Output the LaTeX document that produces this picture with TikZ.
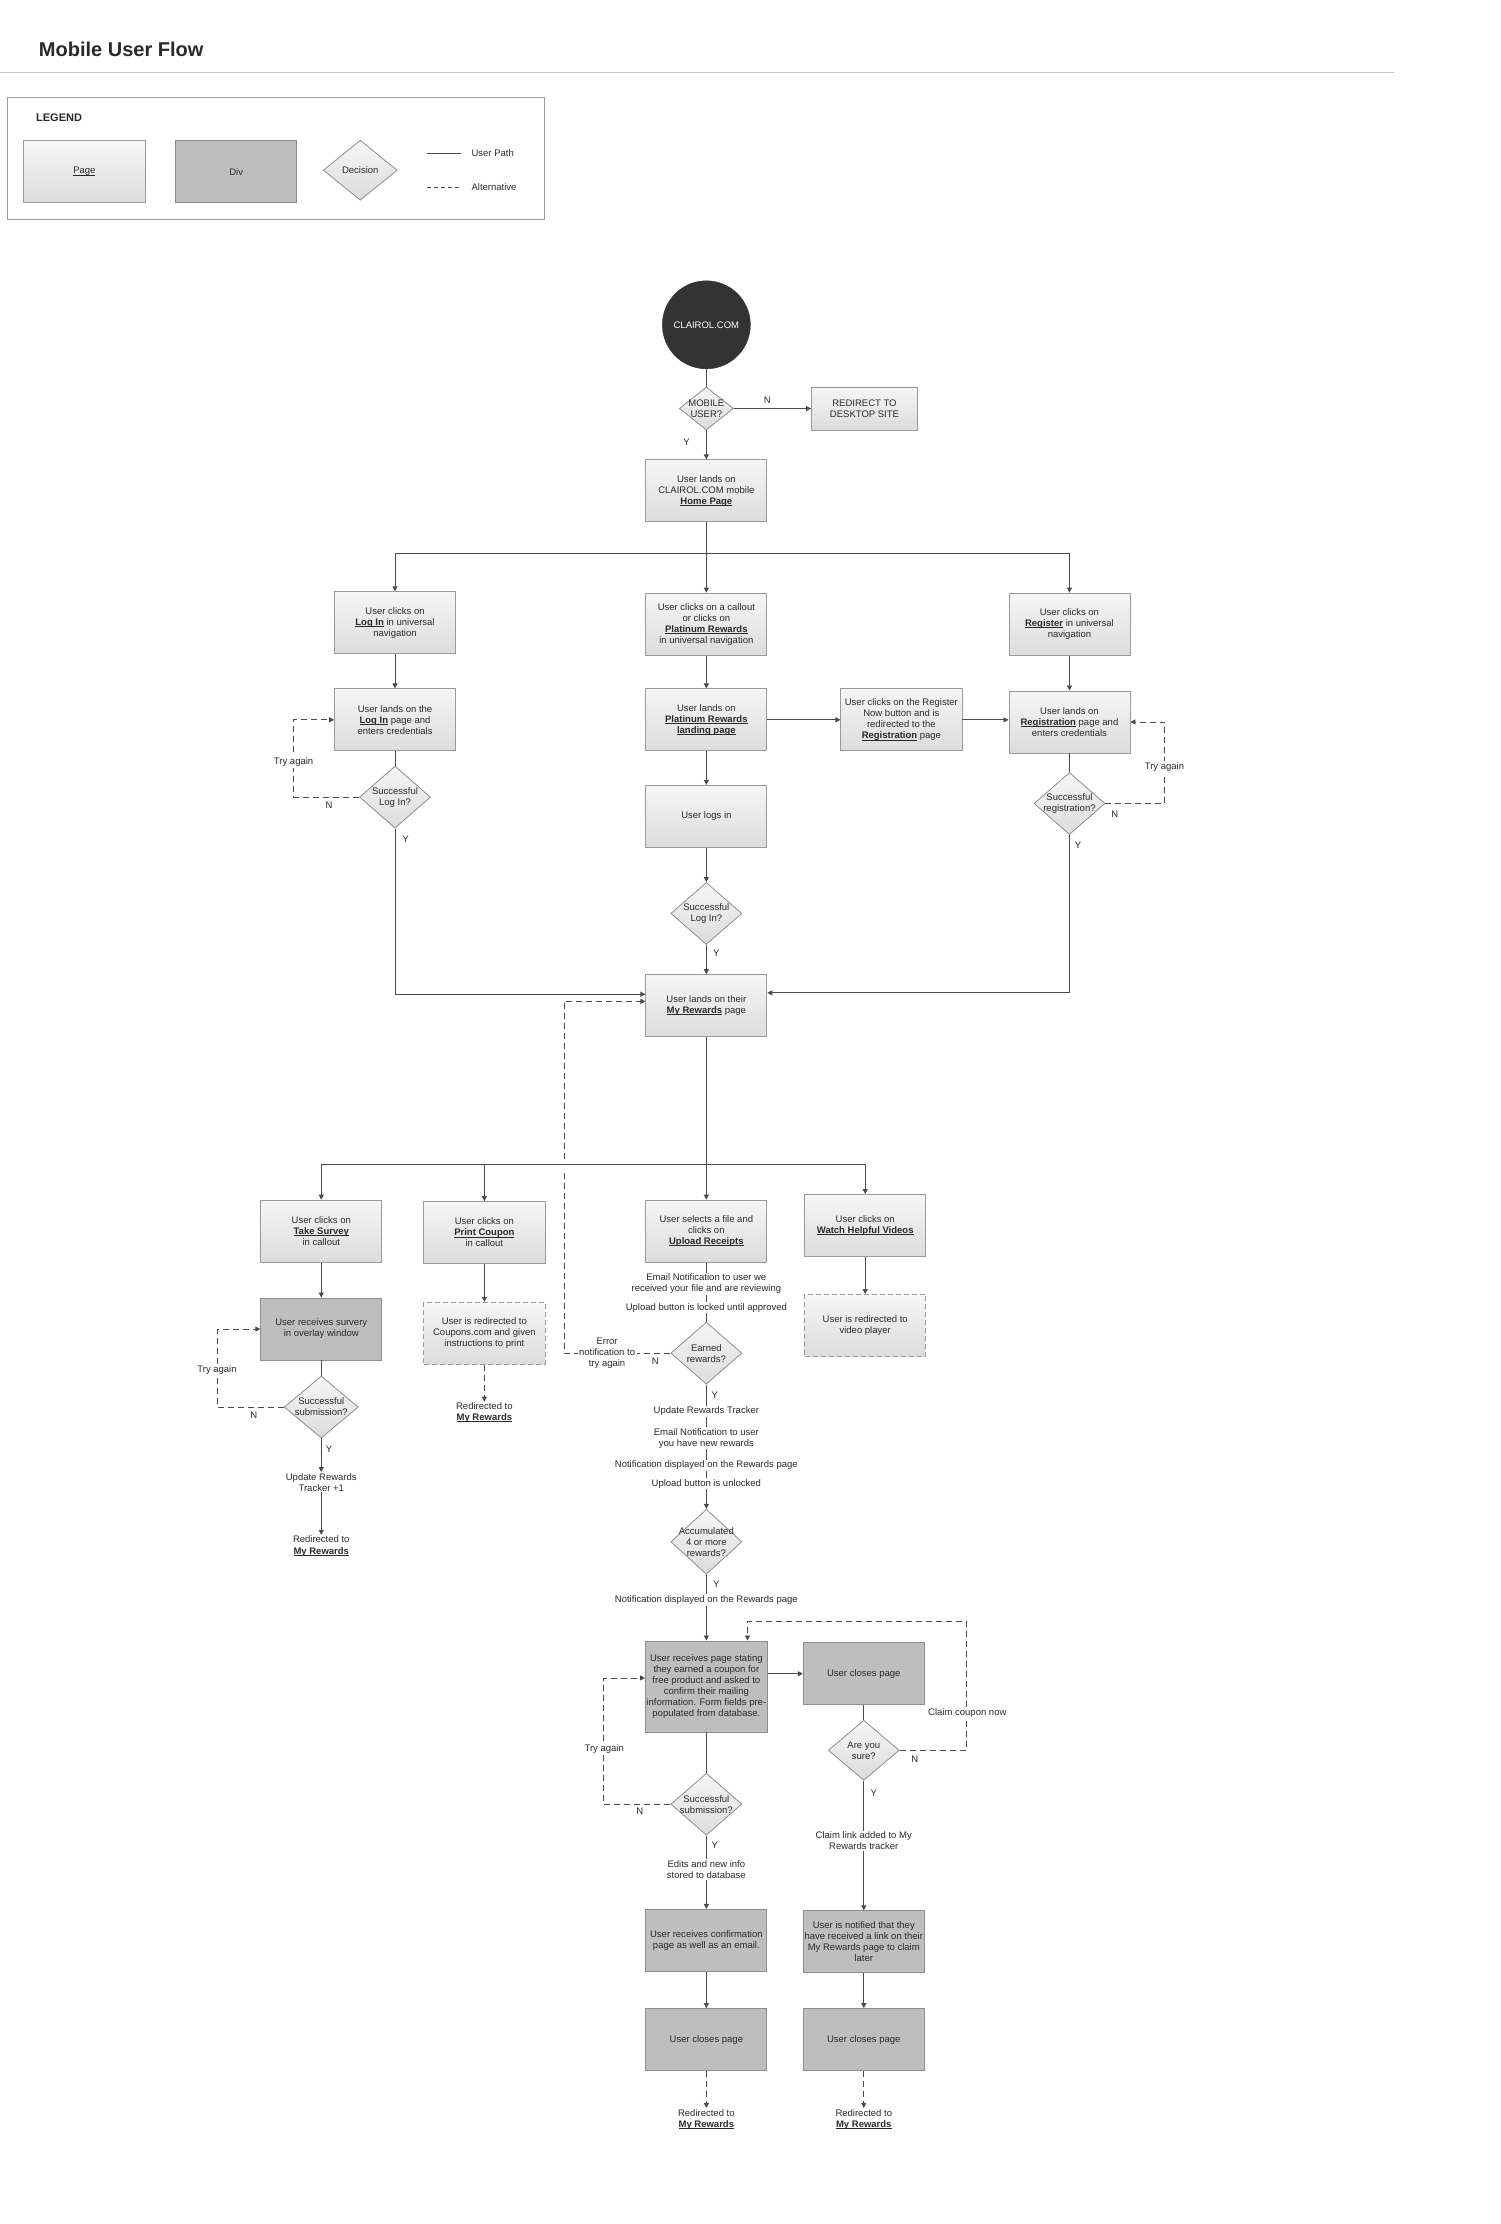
\documentclass[tikz,border=0pt]{standalone}
\usepackage{fontspec}
\setmainfont{Liberation Sans}
\usetikzlibrary{shapes.geometric,arrows.meta,calc}
\definecolor{ln}{HTML}{4A4A4A}
\definecolor{bd}{HTML}{9A9A9A}
\definecolor{tx}{HTML}{2A2A2A}
\definecolor{divc}{HTML}{BEBEBE}
\definecolor{divb}{HTML}{8E8E8E}
\definecolor{pgt}{HTML}{F6F6F6}
\definecolor{pgb}{HTML}{DCDCDC}
\definecolor{sep}{HTML}{C8C8C8}
\definecolor{dark}{HTML}{333333}
\newcommand{\ulnplain}[1]{{\setbox0\hbox{#1}\rlap{\rule[-1.3pt]{\wd0}{0.55pt}}\box0}}
\newcommand{\uln}[1]{\ulnplain{\textbf{#1}}}
\begin{document}
\begin{tikzpicture}[x=1.4178pt,y=-1.4178pt,
  every node/.style={font=\fontsize{9.5}{11}\selectfont, text=tx},
  pagebox/.style={rectangle, draw=bd, line width=0.8pt, top color=pgt, bottom color=pgb, minimum width=121pt, minimum height=62pt, align=center, inner sep=1pt},
  divbox/.style={rectangle, draw=divb, line width=0.8pt, fill=divc, minimum width=121pt, minimum height=62pt, align=center, inner sep=1pt},
  dashbox/.style={pagebox, dash pattern=on 5pt off 3pt},
  decision/.style={diamond, draw=divb, line width=0.8pt, top color=pgt, bottom color=pgb, inner sep=0pt, minimum width=71pt, minimum height=62pt},
  txt/.style={align=center, inner sep=1pt},
  lbl/.style={inner sep=1pt},
  conn/.style={draw=ln, line width=0.9pt},
  arr/.style={conn, -{Triangle[length=5pt,width=5pt]}},
  alt/.style={conn, dash pattern=on 6pt off 4pt},
  altarr/.style={alt, -{Triangle[length=5pt,width=5pt]}},
  onalt/.style={fill=white, inner sep=1.5pt, align=center}
]
\fill[white] (0,0) rectangle (1058,1568);
\useasboundingbox (0,0) rectangle (1058,1568);

% header
\node[anchor=west, font=\fontsize{20}{24}\selectfont\bfseries] (title) at (25,35) {Mobile User Flow};
\draw[sep, line width=1pt] (0,51) -- (983,51);

% legend
\draw[bd, line width=0.8pt] (5,69) rectangle (384,155);
\node[anchor=west, font=\fontsize{11}{13}\selectfont\bfseries] (legend) at (23,83) {LEGEND};
\node[pagebox] (lgPage) at (59.5,121) {\ulnplain{Page}};
\node[divbox] (lgDiv) at (166.5,121) {Div};
\node[decision, minimum width=74pt, minimum height=60pt, label={center:Decision}] (lgDec) at (254,120) {};
\coordinate (lgA) at (301,108); \coordinate (lgB) at (325,108);
\coordinate (lgC) at (301,132); \coordinate (lgD) at (325,132);
\draw[conn, line width=0.7pt] (lgA) -- (lgB);
\draw[alt, line width=0.7pt, dash pattern=on 4pt off 3pt] (lgC) -- (lgD);
\node[anchor=west] (lgPath) at (330,108) {User Path};
\node[anchor=west] (lgAlt) at (330,132) {Alternative};

% top
\node[circle, fill=dark, draw=dark, minimum size=88pt, text=white] (clairol) at (498,229) {CLAIROL.COM};
\node[decision, minimum width=54pt, minimum height=43pt, label={[align=center]center:{MOBILE\\USER?}}] (mobile) at (498,288) {};
\node[pagebox, minimum width=106pt, minimum height=43pt] (redirect) at (609.5,288) {REDIRECT TO\\DESKTOP SITE};
\node[pagebox] (home) at (498,346) {User lands on\\CLAIROL.COM mobile\\\uln{Home Page}};
\draw[conn] (clairol) -- (mobile);
\draw[arr] (mobile) -- (redirect);
\node[lbl] at (541,282) {N};
\draw[arr] (mobile) -- (home);
\node[lbl] at (484,312) {Y};

% row 1
\node[pagebox] (clkLogin) at (278.5,439) {User clicks on\\\uln{Log In} in universal\\navigation};
\node[pagebox] (clkPlat) at (498,440) {User clicks on a callout\\or clicks on\\\uln{Platinum Rewards}\\in universal navigation};
\node[pagebox] (clkReg) at (754,440) {User clicks on\\\uln{Register} in universal\\navigation};
\coordinate (j1) at (498,390);
\draw[arr] (home) -- (clkPlat);
\draw[conn] (clkLogin.north |- j1) -- (clkReg.north |- j1);
\draw[arr] (clkLogin.north |- j1) -- (clkLogin);
\draw[arr] (clkReg.north |- j1) -- (clkReg);

% row 2
\node[pagebox] (loginPage) at (278.5,507.5) {User lands on the\\\uln{Log In} page and\\enters credentials};
\node[pagebox] (platLand) at (498,507.5) {User lands on\\\uln{Platinum Rewards}\\\uln{landing page}};
\node[pagebox] (regNow) at (635.5,507.5) {User clicks on the Register\\Now button and is\\redirected to the\\\uln{Registration} page};
\node[pagebox] (regPage) at (754,509) {User lands on\\\uln{Registration} page and\\enters credentials};
\draw[arr] (clkLogin) -- (loginPage);
\draw[arr] (clkPlat) -- (platLand);
\draw[arr] (clkReg) -- (regPage);
\draw[arr] (platLand) -- (regNow);
\draw[arr] (regNow.east) -- (regNow.east -| regPage.west);

% login decision
\node[decision, label={[align=center]center:{Successful\\Log In?}}] (dLogin) at (278.5,562) {};
\draw[conn] (loginPage) -- (dLogin);
\draw[altarr] (dLogin.west) -- ++(-46,0) |- (loginPage.west);
\node[onalt] at (207,537) {Try again};
\node[lbl] at (232,568) {N};
\node[lbl] at (286,592) {Y};

% platinum path
\node[pagebox] (logsIn) at (498,575.5) {User logs in};
\node[decision, label={[align=center]center:{Successful\\Log In?}}] (dLogin2) at (498,644) {};
\draw[arr] (platLand) -- (logsIn);
\draw[arr] (logsIn) -- (dLogin2);
\node[lbl] at (505,672) {Y};

% registration decision
\node[decision, label={[align=center]center:{Successful\\registration?}}] (dReg) at (754,566.5) {};
\draw[conn] (regPage) -- (dReg);
\draw[altarr] (dReg.east) -- ++(42,0) |- (regPage.east);
\node[onalt] at (821,541) {Try again};
\node[lbl] at (786,574) {N};
\node[lbl] at (760,596) {Y};

% my rewards
\node[pagebox] (myRewards) at (498,709) {User lands on their\\\uln{My Rewards} page};
\draw[arr] (dLogin2) -- (myRewards);
\draw[arr] (dLogin.south) |- ($(myRewards.west)+(0,-8)$);
\draw[arr] (dReg.south) |- ($(myRewards.east)+(0,-9)$);

% row 4
\node[pagebox] (survey) at (226.5,868) {User clicks on\\\uln{Take Survey}\\in callout};
\node[pagebox] (coupon) at (341.5,869) {User clicks on\\\uln{Print Coupon}\\in callout};
\node[pagebox] (upload) at (498,868) {User selects a file and\\clicks on\\\uln{Upload Receipts}};
\node[pagebox] (videos) at (610,864) {User clicks on\\\uln{Watch Helpful Videos}};

% upload chain
\node[txt] (up1) at (498,905) {Email Notification to user we\\received your file and are reviewing};
\node[txt] (up2) at (498,922) {Upload button is locked until approved};
\node[decision, label={[align=center]center:{Earned\\rewards?}}] (dEarned) at (498,954) {};
\draw[altarr] (dEarned.west) -- ++(-75,0) |- ($(myRewards.west)+(0,-3)$);
\node[onalt] (errLbl) at (428,954) {Error\\notification to\\try again};
\node[lbl] at (462,960) {N};
\fill[white] (394,817) rectangle (402,826);

\coordinate (j2) at (498,821);
\draw[arr] (myRewards) -- (upload);
\draw[conn] (survey.north |- j2) -- (videos.north |- j2);
\draw[arr] (survey.north |- j2) -- (survey);
\draw[arr] (coupon.north |- j2) -- (coupon);
\draw[arr] (videos.north |- j2) -- (videos);

\node[txt] (up3) at (498,995) {Update Rewards Tracker};
\node[txt] (up4) at (498,1014) {Email Notification to user\\you have new rewards};
\node[txt] (up5) at (498,1033) {Notification displayed on the Rewards page};
\node[txt] (up6) at (498,1046) {Upload button is unlocked};
\node[decision, minimum height=65pt, label={[align=center]center:{Accumulated\\4 or more\\rewards?}}] (dAccum) at (498,1087) {};
\node[txt] (up7) at (498,1128) {Notification displayed on the Rewards page};
\node[lbl] at (504,984) {Y};
\node[lbl] at (505,1117) {Y};
\draw[conn] (upload) -- (up1);
\draw[conn] (up1) -- (up2);
\draw[conn] (up2) -- (dEarned);
\draw[conn] (dEarned) -- (up3);
\draw[conn] (up3) -- (up4);
\draw[conn] (up4) -- (up5);
\draw[conn] (up5) -- (up6);
\draw[arr] (up6) -- (dAccum);
\draw[conn] (dAccum) -- (up7);

% survey branch
\node[divbox] (surveyDiv) at (226.5,937) {User receives survery\\in overlay window};
\node[decision, minimum width=74pt, label={[align=center]center:{Successful\\submission?}}] (dSurvey) at (226.5,992) {};
\node[txt] (surveyUpd) at (226.5,1045) {Update Rewards\\Tracker +1};
\node[txt] (surveyRedir) at (226.5,1090) {Redirected to\\\uln{My Rewards}};
\draw[arr] (survey) -- (surveyDiv);
\draw[conn] (surveyDiv) -- (dSurvey);
\draw[altarr] (dSurvey.west) -- ++(-47,0) |- (surveyDiv.west);
\node[onalt] at (153,966) {Try again};
\node[lbl] at (179,998) {N};
\node[lbl] at (232,1022) {Y};
\draw[arr] (dSurvey) -- (surveyUpd);
\draw[arr] (surveyUpd) -- (surveyRedir);

% coupon branch
\node[dashbox] (couponDash) at (341.5,940) {User is redirected to\\Coupons.com and given\\instructions to print};
\node[txt] (couponRedir) at (341.5,996) {Redirected to\\\uln{My Rewards}};
\draw[arr] (coupon) -- (couponDash);
\draw[altarr] (couponDash) -- (couponRedir);

% videos branch
\node[dashbox] (videosDash) at (610,934.5) {User is redirected to\\video player};
\draw[arr] (videos) -- (videosDash);

% coupon page
\node[divbox, minimum height=91pt] (couponPage) at (498,1189) {User receives page stating\\they earned a coupon for\\free product and asked to\\confirm their mailing\\information. Form fields pre-\\populated from database.};
\draw[arr] (up7) -- (couponPage);
\node[divbox] (closes1) at (609,1180) {User closes page};
\draw[arr] (couponPage.east |- closes1.west) -- (closes1.west);
\node[decision, minimum height=60pt, label={[align=center]center:{Are you\\sure?}}] (dSure) at (609,1234) {};
\draw[conn] (closes1) -- (dSure);
\draw[altarr] (dSure.east) -- ++(47,0) -- ++(0,-91) -| ($(couponPage.north)+(29,0)$);
\node[onalt] at (682,1208) {Claim coupon now};
\node[lbl] at (645,1240) {N};
\node[lbl] at (616,1264) {Y};
\node[txt] (claimLink) at (609,1298) {Claim link added to My\\Rewards tracker};
\node[divbox] (notified) at (609,1369) {User is notified that they\\have received a link on their\\My Rewards page to claim\\later};
\node[divbox] (closes2) at (609,1438) {User closes page};
\node[txt] (redir2) at (609,1494) {Redirected to\\\uln{My Rewards}};
\draw[conn] (dSure) -- (claimLink);
\draw[arr] (claimLink) -- (notified);
\draw[arr] (notified) -- (closes2);
\draw[altarr] (closes2) -- (redir2);

\node[decision, label={[align=center]center:{Successful\\submission?}}] (dSubmit) at (498,1272) {};
\draw[conn] (couponPage) -- (dSubmit);
\draw[altarr] (dSubmit.west) -- ++(-47,0) |- ($(couponPage.west)+(0,-6)$);
\node[onalt] at (426,1233) {Try again};
\node[lbl] at (451,1277) {N};
\node[lbl] at (504,1301) {Y};
\node[txt] (edits) at (498,1318) {Edits and new info\\stored to database};
\node[divbox] (confirm) at (498,1368) {User receives confirmation\\page as well as an email.};
\node[divbox] (closes3) at (498,1438) {User closes page};
\node[txt] (redir3) at (498,1494) {Redirected to\\\uln{My Rewards}};
\draw[conn] (dSubmit) -- (edits);
\draw[arr] (edits) -- (confirm);
\draw[arr] (confirm) -- (closes3);
\draw[altarr] (closes3) -- (redir3);
\end{tikzpicture}
\end{document}
